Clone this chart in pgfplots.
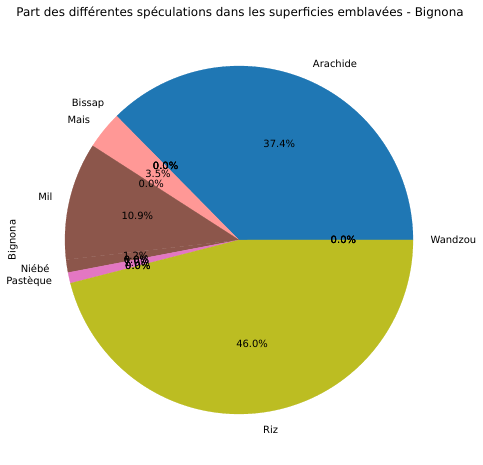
\documentclass[border=0pt]{standalone}
\usepackage{pgfplots}
\pgfplotsset{compat=1.18}
\usepackage{fontspec}
\setmainfont{DejaVu Sans}
\definecolor{cArachide}{HTML}{1F77B4}
\definecolor{cMais}{HTML}{FF9896}
\definecolor{cMil}{HTML}{8C564B}
\definecolor{cPasteque}{HTML}{E377C2}
\definecolor{cRiz}{HTML}{BCBD22}
% slice: start cumulative %, end cumulative %, colour
\newcommand{\pieslice}[3]{%
  \addplot[fill=#3, draw=#3, line width=0.2pt, domain={3.6*#1}:{3.6*#2}, samples=90, variable=\t]
    ({cos(t)},{sin(t)}) -- (axis cs:0,0) -- cycle;}
\newcommand{\pct}[2]{% mid angle, text
  \node[inner sep=0pt, font=\fontsize{10}{12}\selectfont] at (axis cs:{0.6*cos(#1)},{0.6*sin(#1)}) {#2};}
\newcommand{\lab}[3]{% angle, anchor, text
  \node[inner sep=0pt, anchor=#2, font=\fontsize{10}{12}\selectfont] at (axis cs:{1.1*cos(#1)},{1.1*sin(#1)}) {#3};}
\begin{document}
\begin{tikzpicture}
\useasboundingbox[fill=white] (-239bp,-225bp) rectangle (244bp,240bp);
\begin{axis}[
  at={(0,0)}, anchor=center,
  width=348bp, height=348bp, scale only axis,
  xmin=-1, xmax=1, ymin=-1, ymax=1,
  hide axis, clip=false,
]
% values (%): Arachide 37.4, Bissap 0, Mais 3.5, Mil 10.9, Niébé 1.2, Pastèque 1.0, Riz 46.0, Wandzou 0
\pieslice{0}{37.4}{cArachide}
\pieslice{37.4}{40.9}{cMais}
\pieslice{40.9}{51.8}{cMil}
\pieslice{51.8}{53.0}{cMil}
\pieslice{53.0}{54.0}{cPasteque}
\pieslice{54.0}{100}{cRiz}
% percentage texts
\pct{67.32}{37.4\%}
\pct{134.64}{0.0\%}\pct{134.64}{0.0\%}\pct{134.64}{0.0\%}
\pct{140.94}{3.5\%}
\pct{147.24}{0.0\%}
\pct{166.86}{10.9\%}
\pct{188.64}{1.2\%}
\pct{190.8}{0.0\%}\pct{190.8}{0.0\%}
\pct{192.6}{1.0\%}
\pct{194.4}{0.0\%}\pct{194.4}{0.0\%}
\pct{277.2}{46.0\%}
\pct{360}{0.0\%}\pct{360}{0.0\%}\pct{360}{0.0\%}
% category labels
\lab{67.32}{west}{Arachide}
\lab{134.64}{east}{Bissap}
\lab{140.94}{east}{Mais}
\lab{166.86}{east}{Mil}
\lab{188.64}{east}{Niébé}
\lab{192.6}{east}{Pastèque}
\lab{277.2}{west}{Riz}
\lab{360}{west}{Wandzou}
% title and y label
\node[inner sep=0pt, font=\fontsize{12}{14}\selectfont] at (axis cs:0.006,1.3046) {Part des différentes spéculations dans les superficies emblavées - Bignona};
\node[inner sep=0pt, rotate=90, font=\fontsize{10}{12}\selectfont] at (axis cs:-1.299,0) {Bignona};
\end{axis}
\end{tikzpicture}
\end{document}
